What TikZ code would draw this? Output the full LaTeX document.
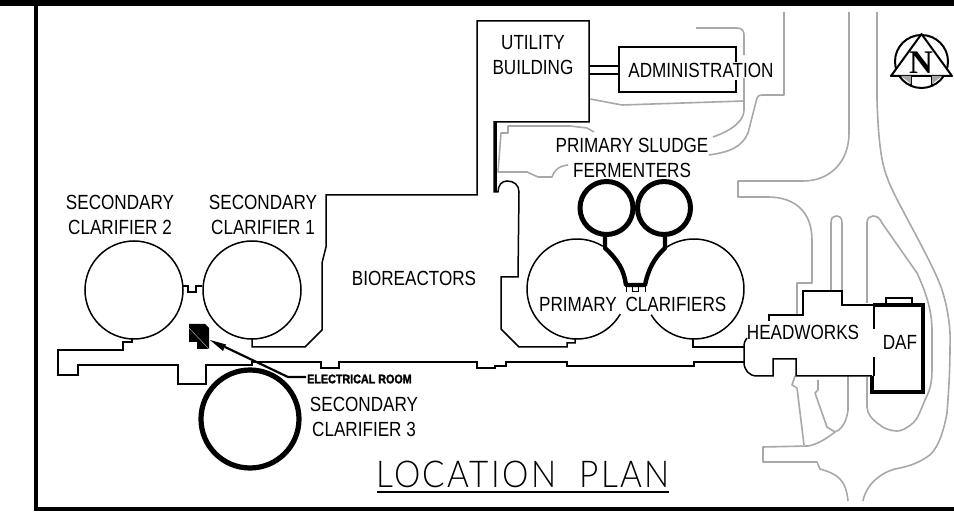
\documentclass[tikz,border=0pt]{standalone}
\usepackage{fontspec}
\setmainfont[FakeStretch=0.835]{Liberation Sans}
\newfontfamily\northfont{Liberation Serif}
\newfontfamily\elecfont[FakeBold=2,FakeStretch=0.86]{Liberation Sans}
\newfontfamily\titlefont[UprightFont=* Light,LetterSpace=6.5,FakeStretch=0.9]{Lato}
\definecolor{roadgray}{gray}{0.66}
\tikzset{
  wall/.style={draw=black,line width=1.5pt,line join=miter},
  heavy/.style={draw=black,line width=5pt,line join=miter},
  road/.style={draw=roadgray,line width=1.6pt,line join=round},
  lab/.style={inner sep=0pt,align=center,font=\fontsize{20.5}{25}\selectfont,text=black}
}
\begin{document}
\begin{tikzpicture}[x=1pt,y=-1pt]
\useasboundingbox (0,0) rectangle (954,518);
% frame
\fill[black] (0,0) rectangle (954,6);
\draw[black,line width=4.5pt] (36,0) -- (36,509) -- (954,509);
% roads
\draw[road] (696,28) -- (737,28) .. controls (742,28) and (744,31) .. (744,35) -- (744,55);
\draw[road] (744,78) -- (744,110) .. controls (744,122) and (730,131) .. (713,137);
\draw[road] (590,99) -- (622,105) -- (744,101);
\draw[road] (784,12) -- (784,95) -- (762,95) .. controls (759,95) and (758,96) .. (757,98) -- (748,133) .. controls (742,147) and (730,152) .. (709,155);
\draw[road] (594,132) -- (587,128) -- (570,126) -- (508,126) -- (508,133) -- (501,133) -- (498,172) -- (527,172) -- (538,177) -- (552,177) .. controls (554,171) and (558,166) .. (568,165);
\draw[road] (849,12) -- (849,133) .. controls (849,162) and (830,181) .. (803,181) -- (738,181) -- (738,197) -- (768,197) .. controls (795,197) and (812,212) .. (812,240) -- (812,283) -- (797,283) -- (797,315);
\draw[road] (877,12) -- (877,100) .. controls (878,130) and (880,160) .. (887,177) .. controls (893,197) and (935,265) .. (943,293) .. controls (948,310) and (951,330) .. (950,347) .. controls (950,375) and (948,400) .. (947,413) .. controls (942,440) and (935,452) .. (927,457) .. controls (915,465) and (905,467) .. (895,469) .. controls (880,473) and (866,485) .. (863,501);
\draw[road] (831,291) -- (831,223) .. controls (831,218) and (833,216) .. (836,216) .. controls (840,216) and (842,218) .. (842,223) -- (842,291);
\draw[road] (867,303) -- (867,223) .. controls (867,218) and (870,216) .. (873,216) .. controls (877,216) and (880,218) .. (882,223) -- (917,273) .. controls (925,290) and (932,310) .. (932,330) -- (932,370) .. controls (932,385) and (929,392) .. (925,400) .. controls (920,412) and (917,420) .. (913,423) .. controls (907,428) and (902,431) .. (897,431) .. controls (890,431) and (883,428) .. (880,425) .. controls (872,420) and (867,413) .. (867,407) -- (867,377);
\draw[road] (795,376) -- (792,385) -- (797,388) -- (804,445);
\draw[road] (848,376) -- (848,410) .. controls (846,425) and (840,430) .. (835,432) .. controls (825,440) and (815,445) .. (808,446) -- (763,447) -- (763,462) -- (817,462) -- (820,469) .. controls (838,474) and (846,480) .. (848,501);
\draw[road] (818,380) -- (818,390) -- (815,393) -- (827,427) -- (835,432);
% walls
\draw[wall] (132,339) -- (132,342) -- (123,342) -- (123,350) -- (58,350) -- (58,375) -- (78,375) -- (78,365) -- (178,365) -- (178,384) -- (206,384) -- (206,365) -- (252,365) -- (252,362) -- (321,362) -- (321,368) -- (339,368) -- (339,362) -- (477,362) -- (477,368) -- (495,368) -- (495,366) -- (506,366) -- (506,362) -- (567,362) -- (567,366) -- (694,366) -- (694,362) -- (744,362);
\draw[wall] (252,339) -- (252,347) -- (305,347) -- (322,330) -- (322,263) -- (326,247) -- (326,195) -- (477,195) -- (477,21) -- (589,21) -- (589,122) -- (494,122) -- (494,192) -- (498,192) .. controls (498,185) and (502,181) .. (507,181) .. controls (514,181) and (519,185) .. (519,192) -- (518,277) -- (501,277) -- (501,329) -- (519,347) -- (567,347) -- (567,343) -- (575,343) -- (575,339);
\draw[wall] (496,122) -- (496,192);
\draw[wall] (693,339) -- (693,347) -- (744,347);
\draw[wall] (747,338) .. controls (745,340) and (744,343) .. (744,347) -- (744,362) .. controls (744,370) and (749,376) .. (757,376) -- (773,376) -- (773,359) -- (796,359) -- (796,376) -- (872,376);
\draw[wall] (769,321) -- (769,315) -- (803,315) -- (803,291) -- (842,291) -- (842,305) -- (873,305);
\draw[wall] (874,305) -- (874,329);
\draw[wall] (874,357) -- (874,376);
% secondary clarifiers
\draw[wall] (134,290) circle (49);
\draw[wall] (252,290) circle (49);
\draw[wall] (183,286) -- (188,286) -- (188,292) -- (196,292) -- (196,286) -- (202,286);
\draw[black,line width=5.2pt] (250,419) circle (49);
% primary clarifiers
\draw[wall] (577,289) ++(-59:50) arc[start angle=-59,end angle=-330,radius=50];
\draw[wall] (694,289) ++(-211:50) arc[start angle=-211,end angle=-483,radius=50];
% fermenters
\draw[heavy] (606.5,208) circle (26.5);
\draw[heavy] (664,208) circle (26.5);
\draw[draw=black,line width=4.4pt,line join=round] (605,236) -- (605,248) .. controls (618,260) and (624,270) .. (626,285) -- (645,285) .. controls (648,270) and (654,258) .. (665,248) -- (665,236);
\draw[wall,line width=1pt] (626,286) -- (626,292);
\draw[wall,line width=1pt] (645,286) -- (645,292);
\draw[wall,line width=1pt] (632,287) rectangle (638,292);
% DAF
\draw[heavy,line width=4.4pt] (873,305) -- (923,305) -- (923,392) -- (872,392) -- (872,376);
\draw[black,line width=2.8pt] (886,305) -- (886,298) -- (912,298) -- (912,305);
% utility / administration
\draw[black,line width=1.8pt] (736,62) -- (736,47) -- (619,47) -- (619,92) -- (736,92) -- (736,80);
\draw[wall] (590,66) -- (619,66);
\draw[wall] (590,74) -- (619,74);
% electrical room
\fill[black] (189,324) -- (205,324) -- (209,328) -- (209,349) -- (197,349) -- (197,342) -- (189,342) -- cycle;
\draw[roadgray,line width=0.5pt] (189,328) -- (209,349);
\coordinate (elecend) at (306,377);
\coordinate (electip) at (210,340);
\draw[black,line width=2.2pt] (elecend) -- (288,377) -- (225,347);
\fill[black] (electip) -- (226,344.5) -- (223,351) -- cycle;
% north arrow
\draw[black,line width=2pt] (921.5,61.5) circle (26.5);
\fill[white] (891,76) -- (921.5,34) -- (952,76) -- cycle;
\draw[black,line width=2pt,line join=round] (891,76) -- (921.5,34) -- (952,76) -- cycle;
\draw[black,line width=1.4pt] (911,76) -- (911,85);
\draw[black,line width=1.4pt] (932,76) -- (932,85);
\fill[roadgray] (911,76) -- (901,76) -- (911,84) -- cycle;
\fill[roadgray] (932,76) -- (942,76) -- (932,84) -- cycle;
\node[inner sep=0pt] (northn) at (921,63) {\fontsize{33}{33}\selectfont\northfont\bfseries N};
% labels
\node[lab] (sc2) at (120,214.5) {SECONDARY\\CLARIFIER 2};
\node[lab] (sc1) at (263,214.5) {SECONDARY\\CLARIFIER 1};
\node[lab] (bio) at (414,278) {BIOREACTORS};
\node[lab] (sc3) at (364,416.5) {SECONDARY\\CLARIFIER 3};
\node[lab] (util) at (533,55.5) {UTILITY\\BUILDING};
\node[lab] (admin) at (701,70) {ADMINISTRATION};
\node[lab] (psf) at (632,157.5) {PRIMARY SLUDGE\\FERMENTERS};
\node[lab] (pc1) at (578,304) {PRIMARY};
\node[lab] (pc2) at (676,304) {CLARIFIERS};
\node[lab] (head) at (803,332) {HEADWORKS};
\node[lab] (daf) at (900,342) {DAF};
\node[inner sep=0pt,anchor=west] (elec) at (307,379) {\fontsize{12.5}{13}\selectfont\elecfont\bfseries ELECTRICAL\ ROOM};
\node[inner sep=0pt] (title) at (523,474.5) {\fontsize{37}{37}\selectfont\titlefont LOCATION\ \ PLAN};
\draw[black,line width=1.3pt] (377,492) -- (669,492);
\end{tikzpicture}
\end{document}
